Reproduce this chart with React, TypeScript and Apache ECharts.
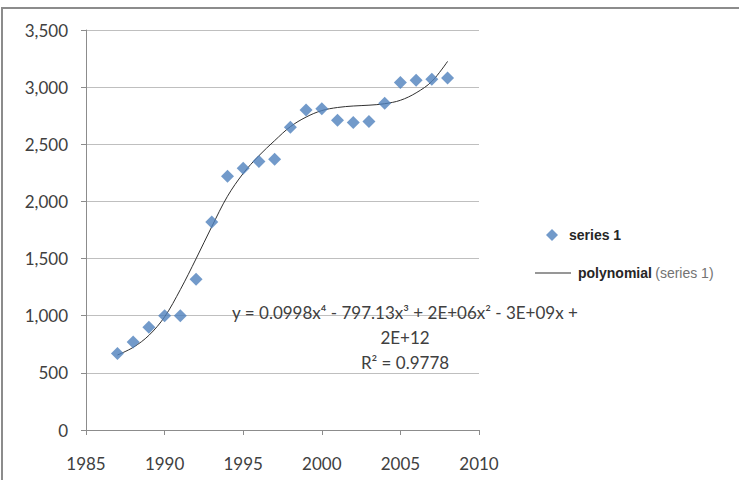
import React, { useEffect, useRef } from "react";
import * as echarts from "echarts";

const years = [1987, 1988, 1989, 1990, 1991, 1992, 1993, 1994, 1995, 1996, 1997, 1998, 1999, 2000, 2001, 2002, 2003, 2004, 2005, 2006, 2007, 2008];
const values = [670, 770, 900, 1000, 1000, 1320, 1820, 2220, 2290, 2350, 2370, 2650, 2800, 2810, 2710, 2690, 2700, 2860, 3040, 3060, 3070, 3080];

// trend curve
const trendYears = [1987, 1988, 1989, 1990, 1991, 1992, 1993, 1994, 1995, 1996, 1997, 1998, 1999, 2000, 2001, 2002, 2003, 2004, 2005, 2006, 2007, 2008];
const trendValues = [656, 723, 828, 990, 1228, 1498, 1779, 2045, 2245, 2400, 2532, 2654, 2738, 2795, 2822, 2835, 2842, 2855, 2885, 2950, 3050, 3225];

const xTicks = { min: 1985, max: 2010, interval: 5 };
const yTicks = { min: 0, max: 3500, interval: 500 };

const equationLines = [
  "y = 0.0998x⁴ - 797.13x³ + 2E+06x² - 3E+09x +",
  "2E+12",
  "R² = 0.9778",
];

const FONT = "Lato, 'Open Sans', sans-serif";

export default function App() {
  const ref = useRef<HTMLDivElement>(null);
  useEffect(() => {
    if (!ref.current) return;
    const chart = echarts.init(ref.current, null, { renderer: "svg" });
    const scatterData = years.map((y, i) => [y, values[i]]);
    const trendData = trendYears.map((y, i) => [y, trendValues[i]]);
    chart.setOption({
      animation: false,
      backgroundColor: "#ffffff",
      grid: { left: 86, right: 260, top: 30, bottom: 50, containLabel: false },
      xAxis: {
        type: "value",
        min: xTicks.min,
        max: xTicks.max,
        interval: xTicks.interval,
        axisLine: { show: true, lineStyle: { color: "#8c8c8c", width: 1 } },
        axisTick: { show: true, length: 5, lineStyle: { color: "#8c8c8c" } },
        splitLine: { show: false },
        axisLabel: {
          color: "#404040",
          fontFamily: FONT,
          fontSize: 17,
          margin: 25,
          formatter: (v: number) => String(v),
        },
      },
      yAxis: {
        type: "value",
        min: yTicks.min,
        max: yTicks.max,
        interval: yTicks.interval,
        axisLine: { show: true, lineStyle: { color: "#8c8c8c", width: 1 } },
        axisTick: { show: true, length: 5, lineStyle: { color: "#8c8c8c" } },
        splitLine: { show: true, lineStyle: { color: "#bfbfbf", width: 1 } },
        axisLabel: {
          color: "#404040",
          fontFamily: FONT,
          fontSize: 17,
          margin: 18,
          formatter: (v: number) => v.toLocaleString("en-US"),
        },
      },
      legend: [
        {
          orient: "vertical",
          left: 541,
          top: 223,
          itemWidth: 12,
          itemHeight: 12,
          data: [{ name: "series 1", icon: "diamond" }],
          textStyle: {
            fontFamily: "'Liberation Sans', Arial, sans-serif",
            fontSize: 14,
            fontWeight: "bold",
            color: "#262626",
            padding: [0, 0, 0, 6],
          },
        },
        {
          orient: "vertical",
          left: 530,
          top: 261,
          itemWidth: 36,
          itemHeight: 1,
          data: [{ name: "polynomial", icon: "rect" }],
          formatter: () => "{b|polynomial} {n|(series 1)}",
          textStyle: {
            padding: [0, 0, 0, 2],
            rich: {
              b: {
                fontFamily: "'Liberation Sans', Arial, sans-serif",
                fontSize: 14,
                fontWeight: "bold",
                color: "#262626",
              },
              n: {
                fontFamily: "'Liberation Sans', Arial, sans-serif",
                fontSize: 14,
                color: "#737373",
              },
            },
          },
        },
      ],
      series: [
        {
          name: "polynomial",
          type: "line",
          data: trendData,
          smooth: 0.35,
          showSymbol: false,
          symbol: "none",
          color: "#303030",
          lineStyle: { color: "#303030", width: 1 },
          z: 2,
        },
        {
          name: "series 1",
          type: "scatter",
          data: scatterData,
          symbol: "diamond",
          symbolSize: 13,
          itemStyle: { color: "#4f81bd" },
          z: 3,
        },
      ],
      graphic: [
        {
          type: "rect",
          shape: { x: 2, y: 8, width: 800, height: 500 },
          style: { fill: "none", stroke: "#8c8c8c", lineWidth: 2 },
          silent: true,
        },
        ...equationLines.map((t, i) => ({
          type: "text",
          x: 405,
          y: 312 + i * 25,
          style: {
            text: t,
            fill: "#404040",
            font: `17px ${FONT}`,
            textAlign: "center",
            textVerticalAlign: "middle",
          },
          z: 10,
        })),
      ],
    });
    return () => chart.dispose();
  }, []);
  return (
    <div
      ref={ref}
      style={{ position: "fixed", left: 0, top: 0, width: 739, height: 480 }}
    />
  );
}
